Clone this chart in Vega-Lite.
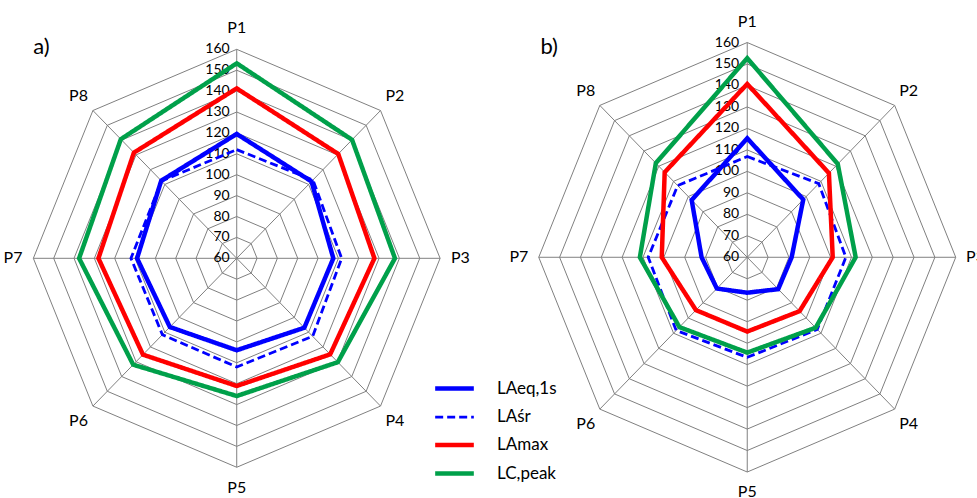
{
  "$schema": "https://vega.github.io/schema/vega-lite/v6.json",
  "width": 977,
  "height": 498,
  "autosize": {"type": "none"},
  "padding": 0,
  "background": "white",
  "config": {"view": {"stroke": null}, "font": "Lato"},
  "datasets": {
    "meas": [
      {"panel": "a", "series": "LAeq,1s", "point": "P1", "value": 119.5},
      {"panel": "a", "series": "LAeq,1s", "point": "P2", "value": 112},
      {"panel": "a", "series": "LAeq,1s", "point": "P3", "value": 107.5},
      {"panel": "a", "series": "LAeq,1s", "point": "P4", "value": 107},
      {"panel": "a", "series": "LAeq,1s", "point": "P5", "value": 104},
      {"panel": "a", "series": "LAeq,1s", "point": "P6", "value": 106.5},
      {"panel": "a", "series": "LAeq,1s", "point": "P7", "value": 109},
      {"panel": "a", "series": "LAeq,1s", "point": "P8", "value": 112.5},
      {"panel": "a", "series": "LAśr", "point": "P1", "value": 112},
      {"panel": "a", "series": "LAśr", "point": "P2", "value": 113},
      {"panel": "a", "series": "LAśr", "point": "P3", "value": 111.6},
      {"panel": "a", "series": "LAśr", "point": "P4", "value": 112.8},
      {"panel": "a", "series": "LAśr", "point": "P5", "value": 112},
      {"panel": "a", "series": "LAśr", "point": "P6", "value": 111.7},
      {"panel": "a", "series": "LAśr", "point": "P7", "value": 112},
      {"panel": "a", "series": "LAśr", "point": "P8", "value": 112.3},
      {"panel": "a", "series": "LAmax", "point": "P1", "value": 141.3},
      {"panel": "a", "series": "LAmax", "point": "P2", "value": 130.6},
      {"panel": "a", "series": "LAmax", "point": "P3", "value": 127.7},
      {"panel": "a", "series": "LAmax", "point": "P4", "value": 125},
      {"panel": "a", "series": "LAmax", "point": "P5", "value": 121.1},
      {"panel": "a", "series": "LAmax", "point": "P6", "value": 125.2},
      {"panel": "a", "series": "LAmax", "point": "P7", "value": 128},
      {"panel": "a", "series": "LAmax", "point": "P8", "value": 131.5},
      {"panel": "a", "series": "LC,peak", "point": "P1", "value": 153.3},
      {"panel": "a", "series": "LC,peak", "point": "P2", "value": 140.2},
      {"panel": "a", "series": "LC,peak", "point": "P3", "value": 137.8},
      {"panel": "a", "series": "LC,peak", "point": "P4", "value": 130.3},
      {"panel": "a", "series": "LC,peak", "point": "P5", "value": 125.9},
      {"panel": "a", "series": "LC,peak", "point": "P6", "value": 132},
      {"panel": "a", "series": "LC,peak", "point": "P7", "value": 137.5},
      {"panel": "a", "series": "LC,peak", "point": "P8", "value": 140.6},
      {"panel": "b", "series": "LAeq,1s", "point": "P1", "value": 115.4},
      {"panel": "b", "series": "LAeq,1s", "point": "P2", "value": 98},
      {"panel": "b", "series": "LAeq,1s", "point": "P3", "value": 81.3},
      {"panel": "b", "series": "LAeq,1s", "point": "P4", "value": 81},
      {"panel": "b", "series": "LAeq,1s", "point": "P5", "value": 76.5},
      {"panel": "b", "series": "LAeq,1s", "point": "P6", "value": 80.6},
      {"panel": "b", "series": "LAeq,1s", "point": "P7", "value": 81.9},
      {"panel": "b", "series": "LAeq,1s", "point": "P8", "value": 97.7},
      {"panel": "b", "series": "LAśr", "point": "P1", "value": 106.9},
      {"panel": "b", "series": "LAśr", "point": "P2", "value": 108.5},
      {"panel": "b", "series": "LAśr", "point": "P3", "value": 107.3},
      {"panel": "b", "series": "LAśr", "point": "P4", "value": 107.5},
      {"panel": "b", "series": "LAśr", "point": "P5", "value": 106.6},
      {"panel": "b", "series": "LAśr", "point": "P6", "value": 108.2},
      {"panel": "b", "series": "LAśr", "point": "P7", "value": 107.5},
      {"panel": "b", "series": "LAśr", "point": "P8", "value": 107.2},
      {"panel": "b", "series": "LAmax", "point": "P1", "value": 140.7},
      {"panel": "b", "series": "LAmax", "point": "P2", "value": 115.4},
      {"panel": "b", "series": "LAmax", "point": "P3", "value": 101},
      {"panel": "b", "series": "LAmax", "point": "P4", "value": 95.5},
      {"panel": "b", "series": "LAmax", "point": "P5", "value": 94.6},
      {"panel": "b", "series": "LAmax", "point": "P6", "value": 94.8},
      {"panel": "b", "series": "LAmax", "point": "P7", "value": 101},
      {"panel": "b", "series": "LAmax", "point": "P8", "value": 116},
      {"panel": "b", "series": "LC,peak", "point": "P1", "value": 152.7},
      {"panel": "b", "series": "LC,peak", "point": "P2", "value": 121.4},
      {"panel": "b", "series": "LC,peak", "point": "P3", "value": 112},
      {"panel": "b", "series": "LC,peak", "point": "P4", "value": 106.4},
      {"panel": "b", "series": "LC,peak", "point": "P5", "value": 104.4},
      {"panel": "b", "series": "LC,peak", "point": "P6", "value": 106},
      {"panel": "b", "series": "LC,peak", "point": "P7", "value": 111.5},
      {"panel": "b", "series": "LC,peak", "point": "P8", "value": 122}
    ],
    "grid": [
      {"point": "P1", "level": [70, 80, 90, 100, 110, 120, 130, 140, 150, 160]},
      {"point": "P2", "level": [70, 80, 90, 100, 110, 120, 130, 140, 150, 160]},
      {"point": "P3", "level": [70, 80, 90, 100, 110, 120, 130, 140, 150, 160]},
      {"point": "P4", "level": [70, 80, 90, 100, 110, 120, 130, 140, 150, 160]},
      {"point": "P5", "level": [70, 80, 90, 100, 110, 120, 130, 140, 150, 160]},
      {"point": "P6", "level": [70, 80, 90, 100, 110, 120, 130, 140, 150, 160]},
      {"point": "P7", "level": [70, 80, 90, 100, 110, 120, 130, 140, 150, 160]},
      {"point": "P8", "level": [70, 80, 90, 100, 110, 120, 130, 140, 150, 160]}
    ],
    "ticks": [
      {"level": 60}, {"level": 70}, {"level": 80}, {"level": 90}, {"level": 100}, {"level": 110},
      {"level": 120}, {"level": 130}, {"level": 140}, {"level": 150}, {"level": 160}
    ],
    "panels": [{"panel": "a", "title": "a)"}, {"panel": "b", "title": "b)"}]
  },
  "resolve": {"scale": {"x": "independent", "y": "independent"}},
  "layer": [
    {
      "encoding": {
        "x": {"type": "quantitative", "scale": {"domain": [-116.4, 364.0], "nice": false, "zero": false}, "axis": null},
        "y": {"type": "quantitative", "scale": {"domain": [-114.7, 123.6], "nice": false, "zero": false}, "axis": null}
      },
      "layer": [
        {
          "data": {"name": "grid"},
          "transform": [
            {"flatten": ["level"]},
            {"calculate": "indexof(['P1','P2','P3','P4','P5','P6','P7','P8'], datum.point)", "as": "idx"},
            {"calculate": "(datum.level - 60) * sin(datum.idx * PI / 4)", "as": "px"},
            {"calculate": "(datum.level - 60) * cos(datum.idx * PI / 4)", "as": "py"}
          ],
          "mark": {"type": "line", "interpolate": "linear-closed", "stroke": "#808080", "strokeWidth": 1},
          "encoding": {
            "x": {"field": "px"},
            "y": {"field": "py"},
            "detail": {"field": "level", "type": "nominal"},
            "order": {"field": "idx", "type": "quantitative"}
          }
        },
        {
          "data": {"name": "grid"},
          "transform": [
            {"calculate": "indexof(['P1','P2','P3','P4','P5','P6','P7','P8'], datum.point)", "as": "idx"},
            {"calculate": "100 * sin(datum.idx * PI / 4)", "as": "px"},
            {"calculate": "100 * cos(datum.idx * PI / 4)", "as": "py"},
            {"calculate": "0", "as": "c"}
          ],
          "mark": {"type": "rule", "stroke": "#808080", "strokeWidth": 1},
          "encoding": {
            "x": {"field": "c"},
            "y": {"field": "c"},
            "x2": {"field": "px"},
            "y2": {"field": "py"}
          }
        },
        {
          "data": {"name": "ticks"},
          "transform": [{"calculate": "datum.level - 60", "as": "py"}, {"calculate": "0", "as": "c"}],
          "mark": {"type": "text", "align": "right", "baseline": "middle", "dx": -7, "fontSize": 14, "font": "Lato", "color": "#000"},
          "encoding": {"x": {"field": "c"}, "y": {"field": "py"}, "text": {"field": "level", "type": "quantitative"}}
        },
        {
          "data": {"name": "grid"},
          "transform": [
            {"calculate": "indexof(['P1','P2','P3','P4','P5','P6','P7','P8'], datum.point)", "as": "idx"},
            {"calculate": "110 * sin(datum.idx * PI / 4)", "as": "px"},
            {"calculate": "110 * cos(datum.idx * PI / 4)", "as": "py"}
          ],
          "mark": {"type": "text", "align": "center", "baseline": "middle", "fontSize": 16, "font": "Lato", "color": "#000"},
          "encoding": {"x": {"field": "px"}, "y": {"field": "py"}, "text": {"field": "point", "type": "nominal"}}
        },
        {
          "data": {"name": "panels"},
          "transform": [{"filter": "datum.panel === 'a'"}],
          "mark": {"type": "text", "align": "center", "baseline": "middle", "fontSize": 22, "font": "Lato", "color": "#000"},
          "encoding": {"x": {"datum": -96}, "y": {"datum": 101}, "text": {"field": "title", "type": "nominal"}}
        },
        {
          "data": {"name": "meas"},
          "transform": [
            {"filter": "datum.panel === 'a'"},
            {"calculate": "indexof(['P1','P2','P3','P4','P5','P6','P7','P8'], datum.point)", "as": "idx"},
            {"calculate": "(datum.value - 60) * sin(datum.idx * PI / 4)", "as": "px"},
            {"calculate": "(datum.value - 60) * cos(datum.idx * PI / 4)", "as": "py"}
          ],
          "mark": {"type": "line", "interpolate": "linear-closed"},
          "encoding": {
            "x": {"field": "px"},
            "y": {"field": "py"},
            "order": {"field": "idx", "type": "quantitative"},
            "color": {"field": "series", "type": "nominal", "title": null,
              "scale": {"domain": ["LAeq,1s", "LAśr", "LAmax", "LC,peak"], "range": ["#0000FF", "#0000FF", "#FF0000", "#00A04A"]}},
            "strokeDash": {"field": "series", "type": "nominal", "title": null,
              "scale": {"domain": ["LAeq,1s", "LAśr", "LAmax", "LC,peak"], "range": [[1, 0], [8, 4], [1, 0], [1, 0]]}},
            "strokeWidth": {"field": "series", "type": "nominal", "title": null,
              "scale": {"type": "ordinal", "domain": ["LAeq,1s", "LAśr", "LAmax", "LC,peak"], "range": [4.5, 2.8, 4.5, 4.5]}}
          }
        }
      ]
    },
    {
      "encoding": {
        "x": {"type": "quantitative", "scale": {"domain": [-358.4, 110.2], "nice": false, "zero": false}, "axis": null},
        "y": {"type": "quantitative", "scale": {"domain": [-112.1, 119.8], "nice": false, "zero": false}, "axis": null}
      },
      "layer": [
        {
          "data": {"name": "grid"},
          "transform": [
            {"flatten": ["level"]},
            {"calculate": "indexof(['P1','P2','P3','P4','P5','P6','P7','P8'], datum.point)", "as": "idx"},
            {"calculate": "(datum.level - 60) * sin(datum.idx * PI / 4)", "as": "px"},
            {"calculate": "(datum.level - 60) * cos(datum.idx * PI / 4)", "as": "py"}
          ],
          "mark": {"type": "line", "interpolate": "linear-closed", "stroke": "#808080", "strokeWidth": 1},
          "encoding": {
            "x": {"field": "px"},
            "y": {"field": "py"},
            "detail": {"field": "level", "type": "nominal"},
            "order": {"field": "idx", "type": "quantitative"}
          }
        },
        {
          "data": {"name": "grid"},
          "transform": [
            {"calculate": "indexof(['P1','P2','P3','P4','P5','P6','P7','P8'], datum.point)", "as": "idx"},
            {"calculate": "100 * sin(datum.idx * PI / 4)", "as": "px"},
            {"calculate": "100 * cos(datum.idx * PI / 4)", "as": "py"},
            {"calculate": "0", "as": "c"}
          ],
          "mark": {"type": "rule", "stroke": "#808080", "strokeWidth": 1},
          "encoding": {
            "x": {"field": "c"},
            "y": {"field": "c"},
            "x2": {"field": "px"},
            "y2": {"field": "py"}
          }
        },
        {
          "data": {"name": "ticks"},
          "transform": [{"calculate": "datum.level - 60", "as": "py"}, {"calculate": "0", "as": "c"}],
          "mark": {"type": "text", "align": "right", "baseline": "middle", "dx": -8, "fontSize": 14, "font": "Lato", "color": "#000"},
          "encoding": {"x": {"field": "c"}, "y": {"field": "py"}, "text": {"field": "level", "type": "quantitative"}}
        },
        {
          "data": {"name": "grid"},
          "transform": [
            {"calculate": "indexof(['P1','P2','P3','P4','P5','P6','P7','P8'], datum.point)", "as": "idx"},
            {"calculate": "109.5 * sin(datum.idx * PI / 4)", "as": "px"},
            {"calculate": "109.5 * cos(datum.idx * PI / 4)", "as": "py"}
          ],
          "mark": {"type": "text", "align": "center", "baseline": "middle", "fontSize": 16, "font": "Lato", "color": "#000"},
          "encoding": {"x": {"field": "px"}, "y": {"field": "py"}, "text": {"field": "point", "type": "nominal"}}
        },
        {
          "data": {"name": "panels"},
          "transform": [{"filter": "datum.panel === 'b'"}],
          "mark": {"type": "text", "align": "center", "baseline": "middle", "fontSize": 22, "font": "Lato", "color": "#000"},
          "encoding": {"x": {"datum": -95}, "y": {"datum": 98}, "text": {"field": "title", "type": "nominal"}}
        },
        {
          "data": {"name": "meas"},
          "transform": [
            {"filter": "datum.panel === 'b'"},
            {"calculate": "indexof(['P1','P2','P3','P4','P5','P6','P7','P8'], datum.point)", "as": "idx"},
            {"calculate": "(datum.value - 60) * sin(datum.idx * PI / 4)", "as": "px"},
            {"calculate": "(datum.value - 60) * cos(datum.idx * PI / 4)", "as": "py"}
          ],
          "mark": {"type": "line", "interpolate": "linear-closed"},
          "encoding": {
            "x": {"field": "px"},
            "y": {"field": "py"},
            "order": {"field": "idx", "type": "quantitative"},
            "color": {"field": "series", "type": "nominal", "title": null,
              "scale": {"domain": ["LAeq,1s", "LAśr", "LAmax", "LC,peak"], "range": ["#0000FF", "#0000FF", "#FF0000", "#00A04A"]},
              "legend": {"orient": "none", "legendX": 446, "legendY": 380, "symbolType": "M-6,0H6", "symbolSize": 41.5, "labelOffset": 34, "labelFontSize": 17, "labelFont": "Lato", "labelColor": "#000", "rowPadding": 9.7}},
            "strokeDash": {"field": "series", "type": "nominal", "title": null,
              "scale": {"domain": ["LAeq,1s", "LAśr", "LAmax", "LC,peak"], "range": [[1, 0], [8, 4], [1, 0], [1, 0]]}},
            "strokeWidth": {"field": "series", "type": "nominal", "title": null,
              "scale": {"type": "ordinal", "domain": ["LAeq,1s", "LAśr", "LAmax", "LC,peak"], "range": [4.5, 2.8, 4.5, 4.5]}}
          }
        }
      ]
    }
  ]
}
